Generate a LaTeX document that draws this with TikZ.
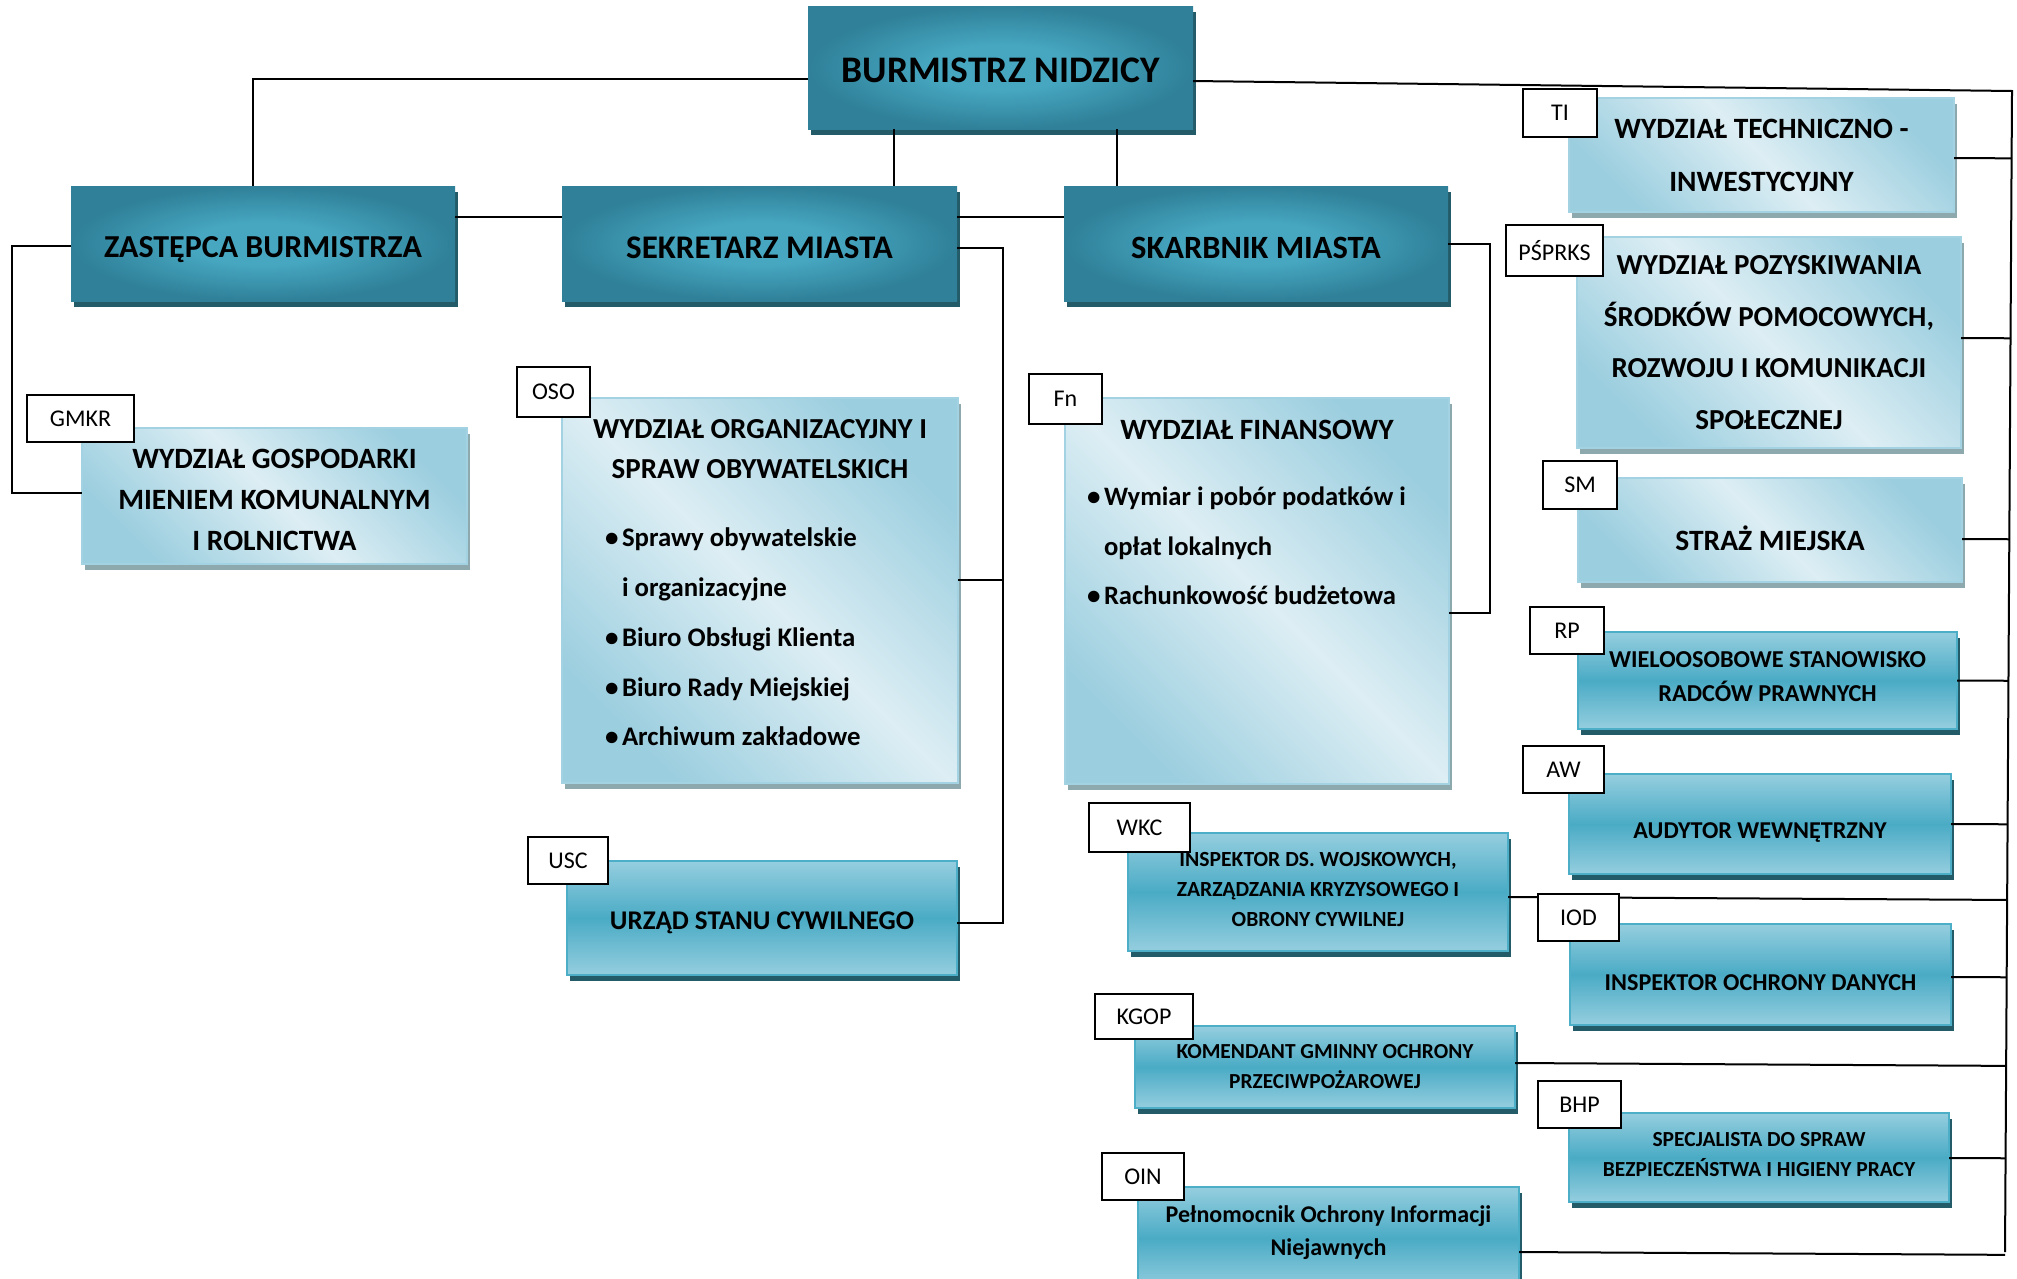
\documentclass[tikz,border=0pt]{standalone}
\usepackage{fontspec}
\setmainfont{Carlito}
\usetikzlibrary{shadows,calc}
\definecolor{dkOut}{HTML}{2F8098}
\definecolor{dkIn}{HTML}{47A7C1}
\definecolor{dkShadow}{HTML}{245B69}
\definecolor{ltDark}{HTML}{9BCEDF}
\definecolor{ltLight}{HTML}{DDEEF4}
\definecolor{ltBorder}{HTML}{A3D3E2}
\definecolor{ltShadow}{HTML}{8EA9AE}
\definecolor{mdEdge}{HTML}{95CEDF}
\definecolor{mdMid}{HTML}{4AABC5}
\definecolor{mdBorder}{HTML}{4DAFC7}
\pgfdeclareradialshading{dkshade}{\pgfpoint{0bp}{0bp}}{color(0bp)=(dkIn); color(9bp)=(dkIn); color(25bp)=(dkOut); color(50bp)=(dkOut)}
\newcommand\bul{\makebox[17pt][l]{\fontsize{27}{27}\selectfont•}}
\newcommand\nobul{\makebox[17pt]{}}
\newcommand\fs[2]{\fontsize{#1}{#2}\selectfont\bfseries}
\tikzset{
  conn/.style={line width=2pt, draw=black},
  basebox/.style={rectangle, inner sep=0pt, outer sep=0pt},
  darkbox/.style={basebox, shade, shading=dkshade,
    drop shadow={shadow xshift=3pt, shadow yshift=-6pt, fill=dkShadow, opacity=1}},
  lightbox/.style={basebox, draw=ltBorder, line width=2pt,
    top color=ltDark, bottom color=ltDark, middle color=ltLight, shading angle=-45,
    drop shadow={shadow xshift=3pt, shadow yshift=-6pt, fill=ltShadow, opacity=1}},
  medbox/.style={basebox, draw=mdBorder, line width=2pt,
    top color=mdEdge, bottom color=mdEdge, middle color=mdMid,
    drop shadow={shadow xshift=3pt, shadow yshift=-6pt, fill=dkShadow, opacity=1}},
  tagbox/.style={basebox, draw=black, line width=2pt, fill=white, align=center,
    font=\fontsize{24}{28}\selectfont},
  txt/.style={inner sep=0pt, outer sep=0pt, text=black, align=center},
}
\begin{document}
\begin{tikzpicture}[x=1pt,y=-1pt]
\useasboundingbox (0,0) rectangle (2017,1278);
% ---------- bus coordinates
\coordinate (busTop) at (2012,91);
\coordinate (busBot) at (2005,1252);
\coordinate (leftBus) at (12,300);
\coordinate (sekBus) at (1003,500);
\coordinate (skBus) at (1490,400);

% ---------- main boxes (dark)
\node[darkbox, minimum width=385pt, minimum height=123pt] (burm) at (1000.5,67.5) {};
\node[darkbox, minimum width=384pt, minimum height=115pt] (zast) at (263,243.5) {};
\node[darkbox, minimum width=395pt, minimum height=115pt] (sekr) at (759.5,243.5) {};
\node[darkbox, minimum width=384pt, minimum height=115pt] (skarb) at (1256,243.5) {};

% ---------- connectors among main boxes
\draw[conn] ($(burm.west)+(0,11.5)$) -| ($(zast.north)+(-10,0)$);
\draw[conn] ($(zast.east)+(0,-26.5)$) -- ($(sekr.west)+(0,-26.5)$);
\draw[conn] ($(burm.south)+(-106.5,0)$) -- ($(sekr.north)+(134.5,0)$);
\draw[conn] ($(sekr.east)+(0,-26.5)$) -- ($(skarb.west)+(0,-26.5)$);
\draw[conn] ($(burm.south)+(116.5,0)$) -- ($(skarb.north)+(-139,0)$);
\draw[conn] ($(burm.east)+(0,13.5)$) -- (busTop) -- (busBot);
\draw[conn] ($(zast.west)+(0,2.5)$) -| (leftBus);
\draw[conn] ($(sekr.east)+(0,4.5)$) -| (sekBus);
\draw[conn] ($(skarb.east)+(0,0.5)$) -| (skBus);

% ---------- light boxes
\node[lightbox, minimum width=385pt, minimum height=136pt] (gmkr) at (274.5,496) {};
\node[lightbox, minimum width=396pt, minimum height=385pt] (oso) at (760,590.5) {};
\node[lightbox, minimum width=384pt, minimum height=386pt] (fn) at (1257,591) {};
\node[lightbox, minimum width=385pt, minimum height=114pt] (ti) at (1761.5,155) {};
\node[lightbox, minimum width=384pt, minimum height=211pt] (psprks) at (1769,342.5) {};
\node[lightbox, minimum width=384pt, minimum height=104pt] (sm) at (1770,530) {};

% ---------- medium boxes
\node[medbox, minimum width=379pt, minimum height=97pt] (rp) at (1767.5,680.5) {};
\node[medbox, minimum width=382pt, minimum height=100pt] (aw) at (1760,824) {};
\node[medbox, minimum width=381pt, minimum height=101pt] (iod) at (1760.5,974.5) {};
\node[medbox, minimum width=380pt, minimum height=89pt] (bhp) at (1759,1157.5) {};
\node[medbox, minimum width=380pt, minimum height=118pt] (wkc) at (1318,892) {};
\node[medbox, minimum width=380pt, minimum height=82pt] (kgop) at (1325,1067) {};
\node[medbox, minimum width=381pt, minimum height=103pt] (oin) at (1328.5,1238.5) {};
\node[medbox, minimum width=390pt, minimum height=114pt] (usc) at (762,918) {};

% ---------- box texts
\node[txt, font=\fs{37.5}{44}] (burmt) at ($(burm)+(0,3)$) {BURMISTRZ NIDZICY};
\node[txt, font=\fs{32}{38}] (zastt) at ($(zast)+(0,6)$) {ZASTĘPCA BURMISTRZA};
\node[txt, font=\fs{33}{38}] (sekrt) at ($(sekr)+(0,4)$) {SEKRETARZ MIASTA};
\node[txt, font=\fs{32.5}{38}] (skarbt) at ($(skarb)+(0,4)$) {SKARBNIK MIASTA};
\node[txt, font=\fs{29.5}{41}] (gmkrt) at ($(gmkr)+(0,4)$) {WYDZIAŁ GOSPODARKI\\MIENIEM KOMUNALNYM\\I ROLNICTWA};
\node[txt, font=\fs{29.5}{53}] (tit) at (ti) {WYDZIAŁ TECHNICZNO -\\INWESTYCYJNY};
\node[txt, font=\fs{29}{51.5}] (psprkst) at (psprks) {WYDZIAŁ POZYSKIWANIA\\ŚRODKÓW POMOCOWYCH,\\ROZWOJU I KOMUNIKACJI\\SPOŁECZNEJ};
\node[txt, font=\fs{29.5}{36}] (smt) at ($(sm)+(0,8)$) {STRAŻ MIEJSKA};
\node[txt, font=\fs{24.3}{33.5}] (rpt) at ($(rp)+(0,-4)$) {WIELOOSOBOWE STANOWISKO\\RADCÓW PRAWNYCH};
\node[txt, font=\fs{24.2}{30}] (awt) at ($(aw)+(0,9)$) {AUDYTOR WEWNĘTRZNY};
\node[txt, font=\fs{24.2}{30}] (iodt) at ($(iod)+(0,8)$) {INSPEKTOR OCHRONY DANYCH};
\node[txt, font=\fs{21.5}{30}] (bhpt) at ($(bhp)+(0,-3)$) {SPECJALISTA DO SPRAW\\BEZPIECZEŃSTWA I HIGIENY PRACY};
\node[txt, font=\fs{21.6}{30}] (wkct) at ($(wkc)+(0,-3)$) {INSPEKTOR DS. WOJSKOWYCH,\\ZARZĄDZANIA KRYZYSOWEGO I\\OBRONY CYWILNEJ};
\node[txt, font=\fs{21.4}{30}] (kgopt) at (kgop) {KOMENDANT GMINNY OCHRONY\\PRZECIWPOŻAROWEJ};
\node[txt, font=\fs{24}{33}] (oint) at ($(oin)+(0,-5.5)$) {Pełnomocnik Ochrony Informacji\\Niejawnych};
\node[txt, font=\fs{27}{32}] (usct) at ($(usc)+(0,5)$) {URZĄD STANU CYWILNEGO};
\node[txt, font=\fs{29}{40.5}] (osot) at (760,449) {WYDZIAŁ ORGANIZACYJNY I\\SPRAW OBYWATELSKICH};
\node[txt, align=left, anchor=west, font=\fs{26.8}{49.8}] (osol) at (605,637) {\bul Sprawy obywatelskie\\\nobul i organizacyjne\\\bul Biuro Obsługi Klienta\\\bul Biuro Rady Miejskiej\\\bul Archiwum zakładowe};
\node[txt, font=\fs{29.5}{40}] (fnt) at (1257,430) {WYDZIAŁ FINANSOWY};
\node[txt, align=left, anchor=west, font=\fs{26.6}{49.5}] (fnl) at (1087,546) {\bul Wymiar i pobór podatków i\\\nobul opłat lokalnych\\\bul Rachunkowość budżetowa};

% ---------- branch connectors
\draw[conn] (leftBus) |- ($(gmkr.west)+(0,-3)$);
\draw[conn] ($(usc.east)+(0,5)$) -| (sekBus);
\draw[conn] ($(oso.east)+(0,-10.5)$) -| (sekBus);
\draw[conn] ($(fn.east)+(0,22)$) -| (skBus);
\draw[conn] ($(ti.east)+(0,3)$) coordinate (p1) -- ($(busTop)!(p1)!(busBot)$);
\draw[conn] ($(psprks.east)+(0,-4.5)$) coordinate (p2) -- ($(busTop)!(p2)!(busBot)$);
\draw[conn] ($(sm.east)+(0,9)$) coordinate (p3) -- ($(busTop)!(p3)!(busBot)$);
\draw[conn] (rp.east) coordinate (p4) -- ($(busTop)!(p4)!(busBot)$);
\draw[conn] (aw.east) coordinate (p5) -- ($(busTop)!(p5)!(busBot)$);
\draw[conn] ($(wkc.east)+(0,5)$) coordinate (p6) -- ($(busTop)!(p6)!(busBot)$);
\draw[conn] ($(iod.east)+(0,2.5)$) coordinate (p7) -- ($(busTop)!(p7)!(busBot)$);
\draw[conn] ($(kgop.east)+(0,-4)$) coordinate (p8) -- ($(busTop)!(p8)!(busBot)$);
\draw[conn] ($(bhp.east)+(0,0.5)$) coordinate (p9) -- ($(busTop)!(p9)!(busBot)$);
\draw[conn] ($(oin.east)+(0,13.5)$) coordinate (p10) -- ($(busTop)!(p10)!(busBot)$);

% ---------- tag boxes
\node[tagbox, minimum width=107pt, minimum height=47pt] (tgmkr) at (80.5,418.5) {GMKR};
\node[tagbox, minimum width=73pt, minimum height=50pt] (toso) at (553.5,392) {OSO};
\node[tagbox, minimum width=80pt, minimum height=47pt] (tusc) at (568,860.5) {USC};
\node[tagbox, minimum width=73pt, minimum height=50pt] (tfn) at (1065.5,399) {Fn};
\node[tagbox, minimum width=74pt, minimum height=48pt] (tti) at (1560,113) {TI};
\node[tagbox, minimum width=97pt, minimum height=51pt] (tps) at (1554.5,250.5) {PŚPRKS};
\node[tagbox, minimum width=74pt, minimum height=48pt] (tsm) at (1580,485) {SM};
\node[tagbox, minimum width=74pt, minimum height=47pt] (trp) at (1567,630.5) {RP};
\node[tagbox, minimum width=81pt, minimum height=47pt] (taw) at (1563.5,769.5) {AW};
\node[tagbox, minimum width=101pt, minimum height=49pt] (twkc) at (1139.5,827.5) {WKC};
\node[tagbox, minimum width=81pt, minimum height=47pt] (tiod) at (1578.5,917.5) {IOD};
\node[tagbox, minimum width=98pt, minimum height=45pt] (tkgop) at (1144,1016.5) {KGOP};
\node[tagbox, minimum width=83pt, minimum height=47pt] (tbhp) at (1579.5,1104.5) {BHP};
\node[tagbox, minimum width=82pt, minimum height=47pt] (toin) at (1143,1176.5) {OIN};
\end{tikzpicture}
\end{document}
